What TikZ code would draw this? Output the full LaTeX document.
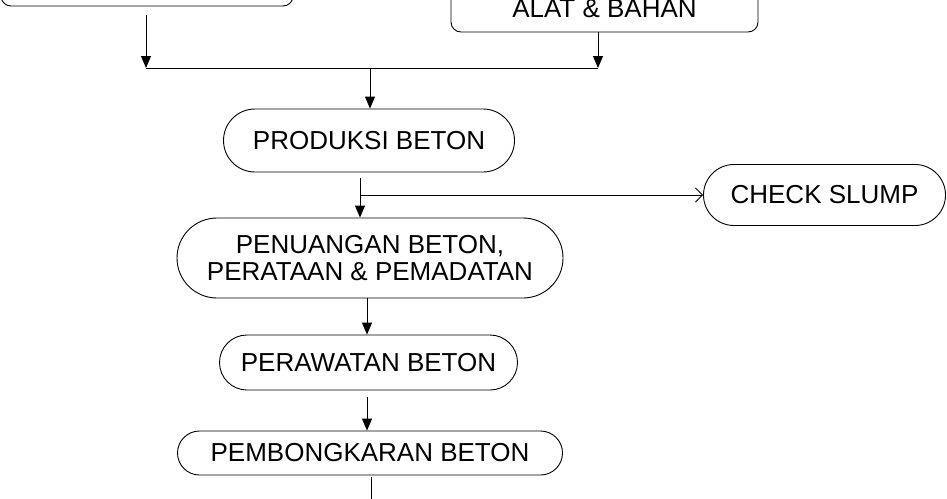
\documentclass[tikz,border=0pt]{standalone}
\usepackage{fontspec}
\setmainfont{Liberation Sans}
\usetikzlibrary{arrows.meta,shapes.misc}

\tikzset{
    proses/.style={draw, rounded rectangle, line width=0.9pt, inner sep=0pt,
        align=center, font=\fontsize{26}{27}\selectfont},
    kotak/.style={draw, rounded corners=10pt, line width=0.9pt, inner sep=0pt,
        align=center, font=\fontsize{26}{27}\selectfont},
    panah/.style={line width=0.9pt, -{Triangle[length=12pt,width=10pt]}},
    cabang/.style={line width=0.9pt, -{Straight Barb[length=7pt,width=14pt,line width=0.9pt]}}
}

\begin{document}
\begin{tikzpicture}[x=1pt, y=-1pt]
        % Area gambar
        \useasboundingbox (0,0) rectangle (947,498);
        \clip (0,0) rectangle (947,498);

        % Kotak atas
        \node[kotak, minimum width=292pt, minimum height=60pt] (kiri) at (147,-24) {};
        \node[kotak, minimum width=307pt, minimum height=46pt] (alat) at (604.5,9) {ALAT \& BAHAN};

        % Proses
        \node[proses, minimum width=291pt, minimum height=63pt] (produksi) at (369,140.5) {PRODUKSI BETON};
        \node[proses, minimum width=386pt, minimum height=80pt] (penuangan) at (370,258) {PENUANGAN BETON,\\PERATAAN \& PEMADATAN};
        \node[proses, minimum width=298pt, minimum height=55pt] (perawatan) at (368.5,362.5) {PERAWATAN BETON};
        \node[proses, minimum width=385pt, minimum height=44pt] (pembongkaran) at (370,453) {PEMBONGKARAN BETON};
        \node[proses, minimum width=242pt, minimum height=61pt] (slump) at (824.5,195) {CHECK SLUMP};

        % Titik simpul
        \coordinate (gabung) at (370,68);
        \coordinate (cabang) at (360,195);

        % Penghubung atas
        \draw[panah, shorten <=9pt] ([xshift=-1pt]kiri.south) -- ([xshift=-1pt]kiri.south |- gabung);
        \draw[panah] ([xshift=-6.5pt]alat.south) -- ([xshift=-6.5pt]alat.south |- gabung);
        \draw[line width=0.9pt] ([xshift=-1pt]kiri.south |- gabung) -- ([xshift=-6.5pt]alat.south |- gabung);
        \draw[panah] (gabung) -- (gabung |- produksi.north);

        % Penghubung tengah
        \draw[panah, shorten <=6pt] ([xshift=-9pt]produksi.south) -- ([xshift=-9pt]produksi.south |- penuangan.north);
        \draw[cabang] (cabang) -- (slump.west);
        \draw[panah] ([xshift=-3pt]penuangan.south) -- ([xshift=-3pt]penuangan.south |- perawatan.north);
        \draw[panah, shorten <=7pt] ([xshift=-1.5pt]perawatan.south) -- ([xshift=-1.5pt]perawatan.south |- pembongkaran.north);

        % Penghubung bawah
        \draw[panah, shorten <=2pt] ([xshift=1pt]pembongkaran.south) -- ++(0,40);

    \end{tikzpicture}
\end{document}
